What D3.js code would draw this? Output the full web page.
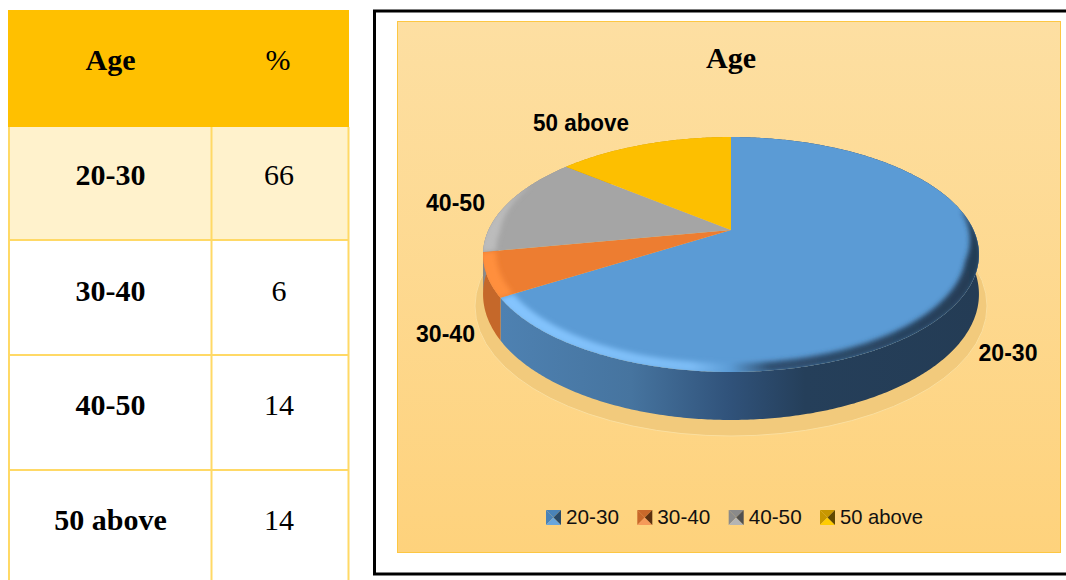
<!DOCTYPE html>
<html>
<head>
<meta charset="utf-8">
<script src="https://cdn.jsdelivr.net/npm/d3@7"></script>
<style>
html, body { margin: 0; padding: 0; background: #fff; overflow: hidden; }
svg { display: block; }
</style>
</head>
<body>
<script>
// dati
var categories = ["20-30", "30-40", "40-50", "50 above"];
var values = [66, 6, 14, 14];
var tableHead = ["Age", "%"];
var chartTitle = "Age";

// colori delle fette
var topColour = ["#5b9bd5", "#ed7d31", "#a5a5a5", "#fdbf00"];
var rimColour = ["#85c5ff", "#ff8f3c", "#bcbcbc", "#fdbf00"];
var sideColour = ["#4a7cab", "#c5682a", "#8a8a8a", "#c79700"];
var keyLight = ["#6aa6dc", "#f59a5a", "#b4b4b4", "#ffcc00"];
var keyMid = ["#4a83b8", "#c8682a", "#8a8a8a", "#c79700"];
var keyDark = ["#2a4a68", "#5c3010", "#505050", "#5f4800"];

var totalWidth = 1066;
var totalHeight = 580;

var svg = d3.select("body").append("svg")
    .attr("width", totalWidth)
    .attr("height", totalHeight);

var defs = svg.append("defs");

// ---------- tabella ----------
var colEdges = [8, 212, 349];
var rowEdges = [10, 126, 240, 355, 470, 585];
var tableBorder = "#ffd966";
var table = svg.append("g");

table.append("rect")
    .attr("x", colEdges[0]).attr("y", rowEdges[0])
    .attr("width", colEdges[2] - colEdges[0])
    .attr("height", rowEdges[1] - rowEdges[0] + 1)
    .attr("fill", "#ffc000");

table.append("rect")
    .attr("x", colEdges[0]).attr("y", rowEdges[1] + 1)
    .attr("width", colEdges[2] - colEdges[0])
    .attr("height", rowEdges[2] - rowEdges[1] - 1)
    .attr("fill", "#fff2cc");

// linee orizzontali e verticali
rowEdges.slice(2, 5).forEach(function(y) {
    table.append("line").attr("x1", colEdges[0]).attr("x2", colEdges[2])
        .attr("y1", y).attr("y2", y)
        .attr("stroke", tableBorder).attr("stroke-width", 2);
});
colEdges.forEach(function(x) {
    table.append("line").attr("x1", x + (x == 8 ? 1 : -0.5) ).attr("x2", x + (x == 8 ? 1 : -0.5))
        .attr("y1", rowEdges[1] + 1).attr("y2", totalHeight)
        .attr("stroke", tableBorder).attr("stroke-width", 2);
});

function cellText(x, y, txt, bold) {
    table.append("text")
        .attr("x", x).attr("y", y)
        .attr("text-anchor", "middle")
        .attr("font-family", "'Liberation Serif', serif")
        .attr("font-size", 30)
        .attr("font-weight", bold ? "bold" : "normal")
        .attr("fill", "#000")
        .text(txt);
}

cellText(110.5, 70, tableHead[0], true);
cellText(278, 70, tableHead[1], false);
categories.forEach(function(c, i) {
    var base = [185, 301, 415, 530][i];
    cellText(110.5, base, c, true);
    cellText(279, base, values[i], false);
});

// ---------- cornice e pannello ----------
svg.append("rect")
    .attr("x", 374.5).attr("y", 11)
    .attr("width", 720).attr("height", 563)
    .attr("fill", "#fff")
    .attr("stroke", "#000")
    .attr("stroke-width", 3);

var panelGrad = defs.append("linearGradient")
    .attr("id", "panelGrad")
    .attr("x1", 0).attr("x2", 0).attr("y1", 0).attr("y2", 1);
panelGrad.append("stop").attr("offset", 0).attr("stop-color", "#fddfa2");
panelGrad.append("stop").attr("offset", 1).attr("stop-color", "#fed27c");

svg.append("rect")
    .attr("x", 397.5).attr("y", 21.5)
    .attr("width", 663).attr("height", 531)
    .attr("fill", "url(#panelGrad)")
    .attr("stroke", "#fdc743")
    .attr("stroke-width", 1);

svg.append("text")
    .attr("x", 731).attr("y", 68)
    .attr("text-anchor", "middle")
    .attr("font-family", "'Liberation Serif', serif")
    .attr("font-size", 30)
    .attr("font-weight", "bold")
    .text(chartTitle);

// ---------- torta in prospettiva ----------
var cx = 731;
var apexY = 230;
var spreadX = 242.5;
var spreadY = 64.4;
var persp = 0.2085;
var depth = 38;

// proietta un angolo (e un raggio) della torta sul piano dell'immagine
function project(a, r, drop) {
    var u = Math.sin(a) * r;
    var v = -Math.cos(a) * r;
    var w = 1 - persp * v;
    return [cx + spreadX * u / w, (apexY + spreadY * v) / w + (drop || 0) / w];
}

function arcAngles(a0, a1) {
    var n = Math.max(2, Math.ceil((a1 - a0) / 0.01));
    return d3.range(n + 1).map(function(i) { return a0 + (a1 - a0) * i / n; });
}

var line = d3.line();
var pie = d3.pie().sort(null);
var slices = pie(values);

function topPath(d) {
    var pts = [project(0, 0)].concat(arcAngles(d.startAngle, d.endAngle).map(function(a) { return project(a, 1); }));
    return line(pts) + "Z";
}

function sidePath(d) {
    var angs = arcAngles(d.startAngle, d.endAngle);
    var upper = angs.map(function(a) { return project(a, 1); });
    var lower = angs.slice().reverse().map(function(a) { return project(a, 1, depth); });
    return line(upper.concat(lower)) + "Z";
}

// ombra sotto la torta
svg.append("ellipse")
    .attr("cx", 731).attr("cy", 306)
    .attr("rx", 256).attr("ry", 130)
    .attr("fill", "#f2ca7c")
    .attr("stroke", "#fbdf9f")
    .attr("stroke-width", 1);

// sfumatura del lato blu
var sideGrad = defs.append("linearGradient")
    .attr("id", "sideBlue")
    .attr("gradientUnits", "userSpaceOnUse")
    .attr("x1", 482).attr("x2", 979).attr("y1", 0).attr("y2", 0);
[[0, "#4f83b4"], [0.3, "#46749f"], [0.5, "#30527a"], [0.65, "#253f5a"], [1, "#243c55"]].forEach(function(s) {
    sideGrad.append("stop").attr("offset", s[0]).attr("stop-color", s[1]);
});

// sfumatura del bordo blu
var rimGrad = defs.append("linearGradient")
    .attr("id", "rimBlue")
    .attr("gradientUnits", "userSpaceOnUse")
    .attr("x1", 482).attr("x2", 979).attr("y1", 0).attr("y2", 0);
[[0, rimColour[0]], [0.42, "#7cbcf5"], [0.5, "#5b9bd5"], [0.58, "#2f4f70"], [1, "#243c55"]].forEach(function(s) {
    rimGrad.append("stop").attr("offset", s[0]).attr("stop-color", s[1]);
});

var blur = defs.append("filter").attr("id", "rimBlur")
    .attr("x", "-10%").attr("y", "-10%").attr("width", "120%").attr("height", "120%");
blur.append("feGaussianBlur").attr("stdDeviation", 2.5);

svg.append("g").selectAll("path")
    .data(slices)
    .enter().append("path")
    .attr("d", sidePath)
    .attr("fill", function(d, i) { return i == 0 ? "url(#sideBlue)" : sideColour[i]; });

svg.append("g").selectAll("path")
    .data(slices)
    .enter().append("path")
    .attr("d", topPath)
    .attr("fill", function(d, i) { return topColour[i]; });

// bordo smussato a spessore variabile, ritagliato sulla faccia superiore
var rimFrom = 1.4;
var rimTo = 5.15;
var rimSpan = 0.45;
var rimWidth = 0.05;

function rimThickness(a) {
    var t = Math.min((a - rimFrom) / rimSpan, (rimTo - a) / rimSpan, 1);
    return rimWidth * Math.max(t, 0);
}

slices.forEach(function(d, i) {
    if (i == 3) return;
    defs.append("clipPath").attr("id", "clip" + i)
        .append("path").attr("d", topPath(d));
    var angs = arcAngles(Math.max(d.startAngle, rimFrom), Math.min(d.endAngle, rimTo));
    var outer = angs.map(function(a) { return project(a, 1.01); });
    var inner = angs.slice().reverse().map(function(a) { return project(a, 1 - rimThickness(a)); });
    svg.append("g").attr("clip-path", "url(#clip" + i + ")")
        .append("path")
        .attr("d", line(outer.concat(inner)) + "Z")
        .attr("fill", i == 0 ? "url(#rimBlue)" : rimColour[i])
        .attr("filter", "url(#rimBlur)");
});

// etichette delle fette
var labelPos = [[1008, 361, 59], [445.5, 342, 59], [455.5, 211, 59], [581, 131, 96]];
categories.forEach(function(c, i) {
    svg.append("text")
        .attr("x", labelPos[i][0]).attr("y", labelPos[i][1])
        .attr("text-anchor", "middle")
        .attr("font-family", "'Liberation Sans', sans-serif")
        .attr("font-size", 23)
        .attr("font-weight", "bold")
        .attr("textLength", labelPos[i][2])
        .attr("lengthAdjust", "spacingAndGlyphs")
        .text(c);
});

// ---------- legenda ----------
var legendX = d3.scalePoint().domain(categories).range([546, 820]);
var keySize = 15;
var keyY = 510;

var legend = svg.append("g").selectAll("g")
    .data(categories)
    .enter().append("g")
    .attr("transform", function(d) { return "translate(" + legendX(d) + "," + keyY + ")"; });

function tri(sel, pts, fill) {
    sel.append("path").attr("d", line(pts) + "Z").attr("fill", fill);
}

legend.each(function(d, i) {
    var g = d3.select(this);
    var s = keySize, m = s / 2;
    tri(g, [[0, 0], [s, 0], [m, m]], keyMid[i]);
    tri(g, [[0, 0], [0, s], [m, m]], keyMid[i]);
    tri(g, [[0, s], [s, s], [m, m]], keyLight[i]);
    tri(g, [[s, 0], [s, s], [m, m]], keyDark[i]);
});

legend.append("text")
    .attr("x", 20).attr("y", 14)
    .attr("font-family", "'Liberation Sans', sans-serif")
    .attr("font-size", 21)
    .attr("fill", "#111")
    .attr("textLength", function(d, i) { return i == 3 ? 83 : 53; })
    .attr("lengthAdjust", "spacingAndGlyphs")
    .text(function(d) { return d; });
</script>
</body>
</html>
